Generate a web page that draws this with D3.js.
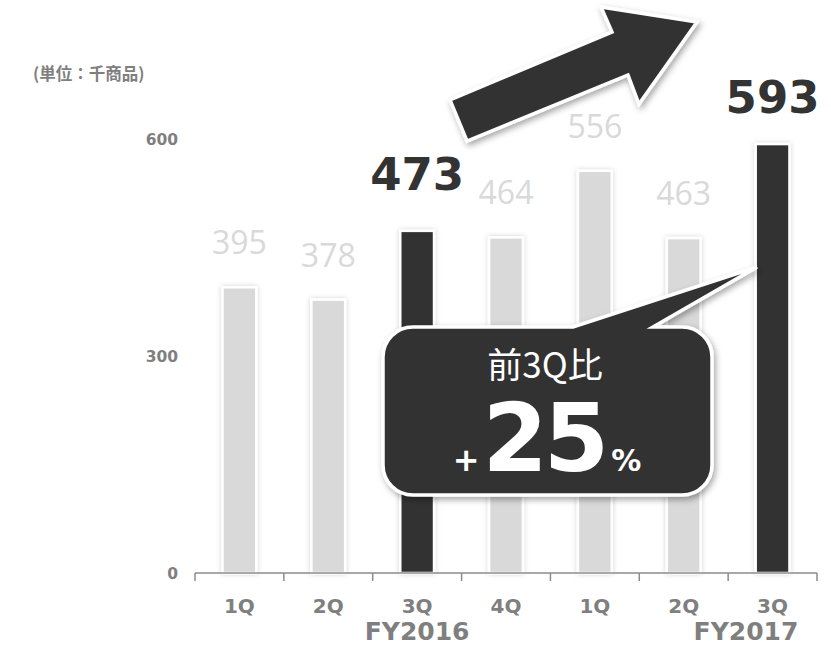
<!DOCTYPE html>
<html><head><meta charset="utf-8">
<script src="https://cdn.jsdelivr.net/npm/d3@7/dist/d3.min.js"></script>
<style>body{margin:0;background:#fff;}svg{display:block;}</style>
</head><body>
<script>
const categories = ["1Q","2Q","3Q","4Q","1Q","2Q","3Q"];
const values = [395, 378, 473, 464, 556, 463, 593];
const highlight = [false, false, true, false, false, false, true];
const yTicks = [0, 300, 600];
const yearLabels = [{label:"FY2016", at:2}, {label:"FY2017", at:6}];
const unitLabel = "(単位：千商品)";
const calloutTitle = "前3Q比";
const calloutValue = "25";

const W = 831, H = 646;
const svg = d3.select("body").append("svg").attr("width", W).attr("height", H);
const defs = svg.append("defs");
const f = defs.append("filter").attr("id","sh").attr("x","-30%").attr("y","-30%").attr("width","160%").attr("height","160%");
f.append("feDropShadow").attr("dx",2).attr("dy",3).attr("stdDeviation",3).attr("flood-color","#000").attr("flood-opacity",0.35);
const g2 = defs.append("filter").attr("id","glow").attr("x","-50%").attr("y","-20%").attr("width","200%").attr("height","140%");
g2.append("feDropShadow").attr("dx",0).attr("dy",0).attr("stdDeviation",2.5).attr("flood-color","#000").attr("flood-opacity",0.18);

const x = d3.scaleBand().domain(d3.range(categories.length)).range([195, 817]).padding(0);
const y = d3.scaleLinear().domain([0, 600]).range([573, 139]);
const barW = x.bandwidth() * 0.38;
const light = "#d9d9d9", dark = "#333333", grey = "#7f7f7f";

// unit label
svg.append("text").attr("x", 33).attr("y", 80).text(unitLabel)
  .attr("font-family","'Noto Sans CJK JP',sans-serif").attr("font-weight","bold")
  .attr("font-size",16.5).attr("fill",grey);

// y tick labels
svg.selectAll(".yt").data(yTicks).join("text")
  .attr("x",178).attr("y",d=>y(d)+5.5).attr("text-anchor","end")
  .attr("font-family","'DejaVu Sans',sans-serif").attr("font-weight","bold")
  .attr("font-size",15.5).attr("fill",grey).text(d=>d);

// bars
svg.selectAll(".bar").data(values).join("rect")
  .attr("x",(d,i)=>x(i)+(x.bandwidth()-barW)/2)
  .attr("y",d=>y(d)).attr("width",barW).attr("height",d=>y(0)-y(d))
  .attr("fill",(d,i)=>highlight[i]?dark:light)
  .attr("stroke","#fff").attr("stroke-width",2.5)
  .attr("filter","url(#glow)");

// axis
const ax = svg.append("g").attr("stroke","#8c8c8c").attr("stroke-width",1.5);
ax.append("line").attr("x1",x.range()[0]).attr("x2",x.range()[1]).attr("y1",y(0)).attr("y2",y(0));
ax.selectAll(".tk").data(d3.range(categories.length+1)).join("line")
  .attr("x1",i=>x.range()[0]+i*x.step()).attr("x2",i=>x.range()[0]+i*x.step())
  .attr("y1",y(0)).attr("y2",y(0)+8);

svg.selectAll(".xl").data(categories).join("text")
  .attr("x",(d,i)=>x(i)+x.bandwidth()/2).attr("y",613).attr("text-anchor","middle")
  .attr("font-family","'DejaVu Sans',sans-serif").attr("font-weight","bold")
  .attr("font-size",20).attr("fill",grey).text(d=>d);

svg.selectAll(".fy").data(yearLabels).join("text")
  .attr("x",d=>d.at===6 ? 746 : x(d.at)+x.bandwidth()/2).attr("y",640).attr("text-anchor","middle")
  .attr("font-family","'DejaVu Sans',sans-serif").attr("font-weight","bold")
  .attr("font-size",25).attr("fill",grey).text(d=>d.label);

// value labels
svg.selectAll(".vl").data(values).join("text")
  .attr("x",(d,i)=>x(i)+x.bandwidth()/2)
  .attr("y",(d,i)=>highlight[i] ? y(d)-(i===2?41:31) : y(d)-33)
  .attr("text-anchor","middle")
  .attr("font-family",(d,i)=>highlight[i]?"'DejaVu Sans',sans-serif":"'Open Sans',sans-serif")
  .attr("font-weight",(d,i)=>highlight[i]?"bold":"normal")
  .attr("font-size",(d,i)=>highlight[i]?45:32)
  .attr("fill",(d,i)=>highlight[i]?dark:light)
  .text(d=>d);

// arrow
const arrowPts = [[450,100],[612,32],[601,7],[697,22],[639,104],[628,75],[467,141]];
svg.append("polygon").attr("points",arrowPts.map(p=>p.join(",")).join(" "))
  .attr("fill",dark).attr("stroke","#fff").attr("stroke-width",3.5).attr("stroke-linejoin","miter")
  .attr("filter","url(#sh)");

// callout
const bx0=383, by0=327, bx1=712, by1=495, r=30;
const path = d3.path();
path.moveTo(bx0+r, by0);
path.lineTo(573, by0);
path.lineTo(757, 267);
path.lineTo(653, by0);
path.lineTo(bx1-r, by0);
path.arcTo(bx1, by0, bx1, by0+r, r);
path.lineTo(bx1, by1-r);
path.arcTo(bx1, by1, bx1-r, by1, r);
path.lineTo(bx0+r, by1);
path.arcTo(bx0, by1, bx0, by1-r, r);
path.lineTo(bx0, by0+r);
path.arcTo(bx0, by0, bx0+r, by0, r);
path.closePath();
svg.append("path").attr("d",path.toString()).attr("fill",dark)
  .attr("stroke","#fff").attr("stroke-width",3.5).attr("filter","url(#sh)");

svg.append("text").attr("x",545).attr("y",378).attr("text-anchor","middle")
  .attr("font-family","'Noto Sans CJK JP',sans-serif").attr("font-size",35)
  .attr("fill","#fff").text(calloutTitle);

const t = svg.append("text").attr("x",547).attr("y",471).attr("text-anchor","middle")
  .attr("font-family","'DejaVu Sans',sans-serif").attr("font-weight","bold").attr("fill","#fff");
t.append("tspan").attr("font-size",32).text("+");
t.append("tspan").attr("font-size",94).attr("letter-spacing",-4).attr("dx",3).text(calloutValue);
t.append("tspan").attr("font-size",30).attr("dx",6).text("%");
</script>
</body></html>
